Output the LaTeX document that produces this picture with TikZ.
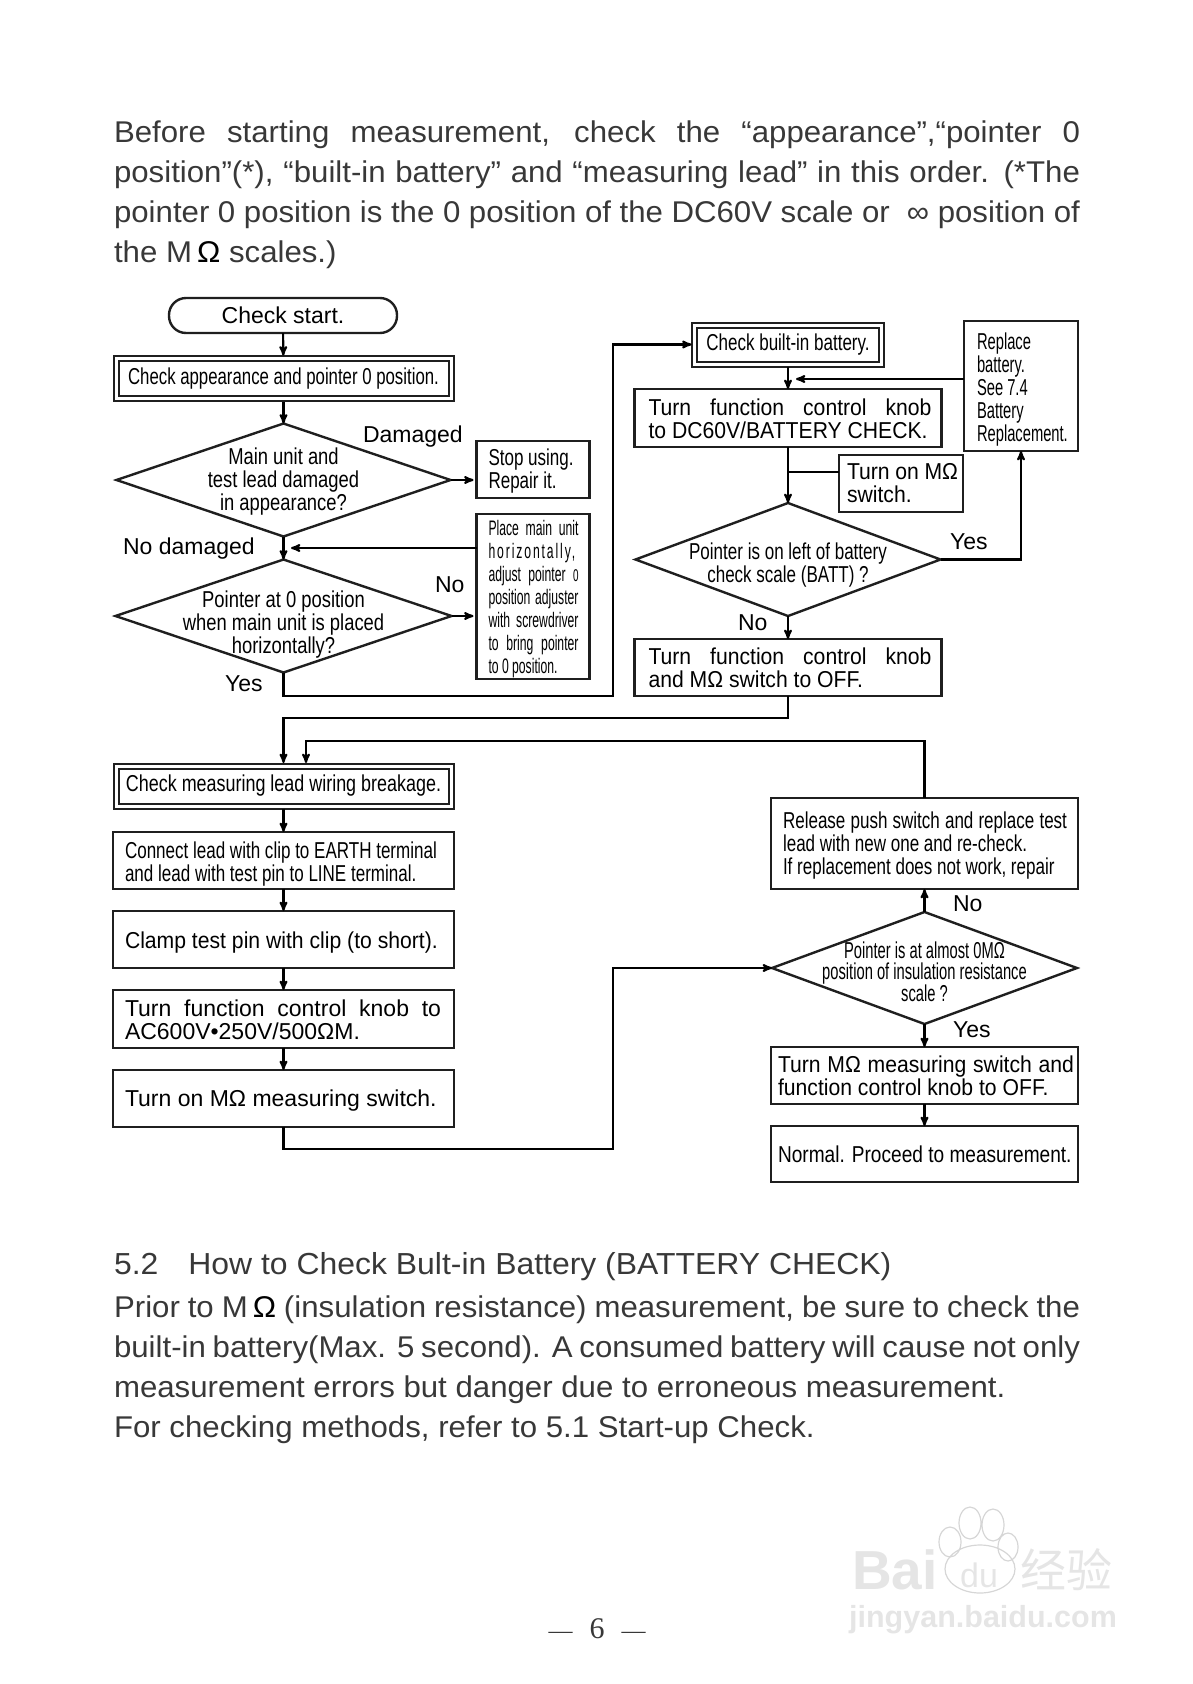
\documentclass[tikz,border=0pt]{standalone}
\usepackage{fontspec}
\setmainfont{Liberation Sans}
\newfontfamily\bodyFont[FakeStretch=1.04]{Liberation Sans}
\newfontfamily\headFont[FakeStretch=1.05]{Liberation Sans}
\newfontfamily\midFont[FakeStretch=0.92]{Liberation Sans}
\newfontfamily\plainFont[FakeStretch=0.83]{Liberation Sans}
\newfontfamily\choiceFont[FakeStretch=0.80]{Liberation Sans}
\newfontfamily\leadFont[FakeStretch=0.78]{Liberation Sans}
\newfontfamily\narrowFont[FakeStretch=0.74]{Liberation Sans}
\newfontfamily\pointerFont[FakeStretch=0.73]{Liberation Sans}
\newfontfamily\tightFont[FakeStretch=0.64]{Liberation Sans}
\newfontfamily\slimFont[FakeStretch=0.58]{Liberation Sans}
\newfontfamily\markFont{Noto Sans CJK SC}
\newfontfamily\numberFont{Liberation Serif}
\usetikzlibrary{arrows, positioning, shapes.geometric}
\colorlet{colorLine}{black!88}
\colorlet{colorBody}{black!78}
\colorlet{colorMark}{black!10}
\colorlet{colorMarkLine}{black!16}
\newcommand{\sizeBox}{\fontsize{23}{23}\selectfont}
\newcommand{\sizeBody}{\fontsize{30}{40}\selectfont}
\newcommand{\fitLine}[2]{\makebox[#1pt][s]{#2}}
\newcommand{\topRoom}[1]{\rule{0pt}{\dimexpr 17pt+#1pt\relax}}
\tikzset{
  every node/.style={execute at begin node={\spaceskip=0pt\relax\xspaceskip=0pt\relax}},
  stepBox/.style n args={3}{draw=colorLine, rectangle, line width=2.4pt, outer sep=0pt, inner ysep=0pt, inner xsep=#3pt, text width=\dimexpr #1pt-#3pt-#3pt\relax, minimum height=#2pt, align=left, font=\sizeBox},
  checkBox/.style 2 args={draw=colorLine, rectangle, line width=2pt, double=white, double distance=3pt, outer sep=3pt, inner sep=0pt, minimum width=#1pt, minimum height=#2pt, align=center, font=\sizeBox},
  choiceBox/.style 2 args={draw=colorLine, diamond, line width=2.4pt, outer sep=0pt, inner sep=0pt, minimum width=#1pt, minimum height=#2pt},
  choiceText/.style={align=center, inner sep=0pt, font=\choiceFont\sizeBox},
  labelText/.style={anchor=base west, inner sep=0pt, font=\sizeBox},
  bodyText/.style={anchor=north west, inner sep=0pt, text width=966pt, align=left, text=colorBody, font=\bodyFont\sizeBody}
}
\begin{document}
\begin{tikzpicture}[x=1pt, y=-1pt, >=stealth', line width=2.1pt, node distance=22pt]
\useasboundingbox (0,0) rectangle (1192,1684);
\node[bodyText] (introText) at (113,120) {\fitLine{966}{Before starting measurement, check the “appearance”,“pointer 0}\\\fitLine{966}{position”(*), “built-in battery” and “measuring lead” in this order. (*The}\\\fitLine{966}{pointer 0 position is the 0 position of the DC60V scale or \ ∞ position of}\\the M\,\textcolor{black}{Ω} scales.)};
\node[rectangle, draw=colorLine, line width=2.4pt, rounded corners=17pt, outer sep=0pt, inner sep=0pt, minimum width=228pt, minimum height=35pt, font=\sizeBox] (start) at (283,315.5) {Check start.};
\node[checkBox={335}{40}, font=\pointerFont\sizeBox] (appearance) at (283.5,378.5) {\raisebox{-2pt}{Check appearance and pointer 0 position.}};
\node[choiceBox={334}{113}, label={[choiceText, yshift=-2pt]center:{Main unit and\\test lead damaged\\in appearance?}}] (damaged) at (283.5,480) {};
\node[stepBox={113}{57}{12}, font=\narrowFont\sizeBox] (stop) at (533,469.5) {\topRoom{2}Stop using.\\Repair it.};
\node[choiceBox={336}{113}, label={[choiceText, yshift=-9pt]center:{Pointer at 0 position\\when main unit is placed\\horizontally?}}] (zero) at (283.5,616) {};
\node[stepBox={113}{165}{12}, font=\slimFont\fontsize{21}{23}\selectfont] (adjust) at (533,596.5) {\topRoom{4}\fitLine{90}{Place main unit}\\\fitLine{90}{\addfontfeature{LetterSpace=9}horizontally,}\\\fitLine{90}{adjust pointer {\fontsize{17}{17}\selectfont 0}}\\\fitLine{90}{position adjuster}\\\fitLine{90}{with screwdriver}\\\fitLine{90}{to bring pointer}\\to 0 position.};
\node[checkBox={187}{39}, font=\narrowFont\sizeBox] (battery) at (788,344.5) {\raisebox{-2pt}{Check built-in battery.}};
\node[stepBox={307}{58}{14}, font=\midFont\sizeBox, below=22pt of battery] (knob) {\topRoom{2}\fitLine{283}{Turn function control knob}\\\mbox{to DC60V/BATTERY CHECK.}};
\node[stepBox={114}{130}{13}, font=\tightFont\sizeBox] (replace) at (1021,386) {\topRoom{6}Replace\\battery.\\See 7.4\\Battery\\\mbox{Replacement.}};
\node[stepBox={124}{57}{8}, font=\midFont\sizeBox] (switchOn) at (901,483.5) {\fitLine{111}{Turn on MΩ}\\switch.};
\node[choiceBox={305}{113}, label={[choiceText, font=\narrowFont\sizeBox, yshift=-6pt]center:{Pointer is on left of battery\\check scale (BATT) ?}}] (left) at (788,559.5) {};
\node[stepBox={307}{57}{14}, font=\midFont\sizeBox, below=23pt of left] (off) {\fitLine{283}{Turn function control knob}\\and MΩ switch to OFF.};
\node[checkBox={335}{40}, font=\leadFont\sizeBox] (lead) at (283.5,786) {\raisebox{-2pt}{Check measuring lead wiring breakage.}};
\node[stepBox={341}{57}{12}, font=\narrowFont\sizeBox, below=23pt of lead] (connect) {\topRoom{6}\mbox{Connect lead with clip to EARTH terminal}\\and lead with test pin to LINE terminal.};
\node[stepBox={341}{57}{12}, font=\midFont\sizeBox, below=of connect] (clamp) {\topRoom{6}\mbox{Clamp test pin with clip (to short).}};
\node[stepBox={341}{58}{12}, below=of clamp] (range) {\topRoom{2}\fitLine{316}{Turn function control knob to}\\AC600V•250V/500ΩM.};
\node[stepBox={341}{57}{12}, below=of range] (measure) {\topRoom{4}\mbox{Turn on MΩ measuring switch.}};
\node[stepBox={307}{91}{12}, font=\narrowFont\sizeBox] (release) at (924.5,843.5) {\topRoom{3}\fitLine{284}{Release push switch and replace test}\\lead with new one and re-check.\\\mbox{If replacement does not work, repair}};
\node[choiceBox={305}{112}, label={[choiceText, font=\tightFont\fontsize{23}{21}\selectfont, yshift=-4pt]center:{Pointer is at almost 0MΩ\\position of insulation resistance\\scale ?}}] (almost) at (924.5,968) {};
\node[stepBox={307}{57}{7}, font=\midFont\sizeBox, below=23pt of almost] (switchOff) {\fitLine{296}{Turn MΩ measuring switch and}\\\mbox{function control knob to OFF.}};
\node[stepBox={307}{56}{7}, font=\plainFont\sizeBox, below=of switchOff] (normal) {\mbox{Normal. Proceed to measurement.}};
\node[labelText] (damagedText) at (362,442) {Damaged};
\node[labelText] (noDamagedText) at (122,554) {No damaged};
\node[labelText] (zeroNoText) at (434,592) {No};
\node[labelText] (zeroYesText) at (224,691) {Yes};
\node[labelText] (leftYesText) at (949,549) {Yes};
\node[labelText] (leftNoText) at (737,630) {No};
\node[labelText] (almostNoText) at (952,911) {No};
\node[labelText] (almostYesText) at (952,1037) {Yes};
\node[anchor=base west, inner sep=0pt, text=colorBody, font=\headFont\fontsize{30.4}{36}\selectfont] (headText) at (113,1274) {5.2\hspace{30pt}How to Check Bult-in Battery (BATTERY CHECK)};
\node[bodyText] (batteryText) at (113,1295) {\fitLine{966}{Prior to M\,\textcolor{black}{Ω} (insulation resistance) measurement, be sure to check the}\\\fitLine{966}{built-in battery(Max. 5 second). A consumed battery will cause not only}\\measurement errors but danger due to erroneous measurement.\\For checking methods, refer to 5.1 Start-up Check.};
\node[inner sep=0pt, text=colorBody, font=\numberFont\fontsize{30}{36}\selectfont] (pageText) at (597,1629) {{\fontsize{24}{24}\selectfont —}\hspace{17pt}6\hspace{17pt}{\fontsize{24}{24}\selectfont —}};
\coordinate (adjustEnd) at (291,548);
\coordinate (replaceEnd) at (796,379);
\coordinate (switchEnd) at (788,472);
\coordinate (batteryTurn) at (613,696);
\coordinate (offTurn) at (283.5,718);
\coordinate (backTurn) at (306,741);
\coordinate (measureTurn) at (613,1149);
\draw [->] (start) -- (appearance);
\draw [->] (appearance) -- (damaged);
\draw [->, shorten >=3pt] (damaged.east) -- (stop.west |- damaged.east);
\draw [->] (damaged) -- (zero);
\draw [->, shorten >=3pt] (zero.east) -- (adjust.west |- zero.east);
\draw [->] (adjust.west |- adjustEnd) -- (adjustEnd);
\draw [->] (zero.south) |- (batteryTurn) |- (battery.west);
\draw [->] (battery) -- (knob);
\draw [->] (replace.west |- replaceEnd) -- (replaceEnd);
\draw [->] (knob) -- (left);
\draw (switchOn.west |- switchEnd) -- (switchEnd);
\draw [->] (left.east) -| (replace.south);
\draw [->] (left) -- (off);
\draw [->] (off.south) |- (offTurn) -- (offTurn |- lead.north);
\draw [->] (lead) -- (connect);
\draw [->] (connect) -- (clamp);
\draw [->] (clamp) -- (range);
\draw [->] (range) -- (measure);
\draw [->] (measure.south) |- (measureTurn) |- (almost.west);
\draw [->] (almost) -- (release);
\draw [->] (release.north) |- (backTurn) -- (backTurn |- lead.north);
\draw [->] (almost) -- (switchOff);
\draw [->] (switchOff) -- (normal);
\draw [colorMarkLine, line width=1.2pt] (970,1523) ellipse (11 and 16) (993,1525) ellipse (11 and 16) (950,1542) ellipse (11 and 15) (1008,1547) ellipse (10 and 14) (980,1569) ellipse (35 and 24);
\node[inner sep=0pt, text=colorMark, font=\bfseries\fontsize{55}{55}\selectfont] (markBai) at (895,1570) {Bai};
\node[inner sep=0pt, text=colorMark, font=\fontsize{34}{34}\selectfont] (markDu) at (979,1575) {du};
\node[inner sep=0pt, text=colorMark, font=\markFont\fontsize{46}{46}\selectfont] (markCn) at (1066,1570) {经验};
\node[inner sep=0pt, text=colorMark, font=\bfseries\fontsize{30.5}{30}\selectfont] (markWeb) at (983,1620) {jingyan.baidu.com};
\end{tikzpicture}
\end{document}
